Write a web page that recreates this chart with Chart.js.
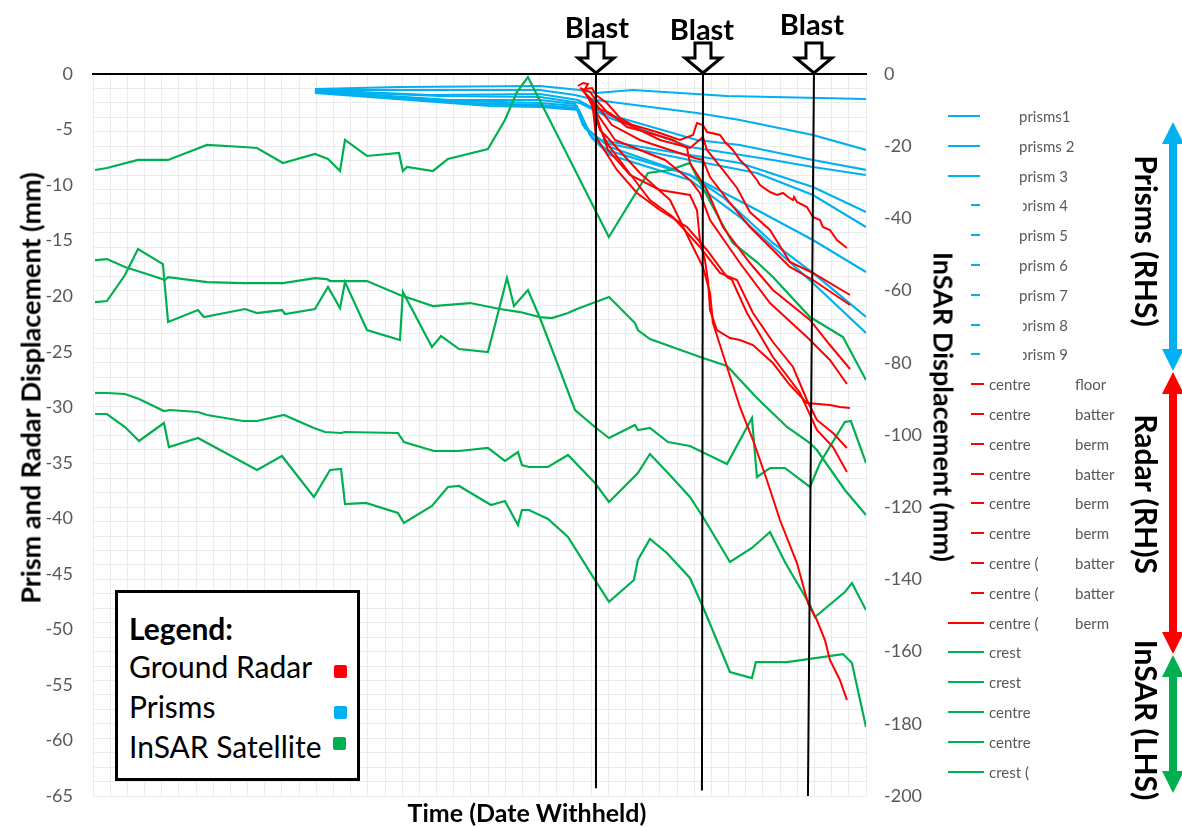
<!DOCTYPE html>
<html>
<head>
<meta charset="utf-8">
<title>Prism, radar and InSAR displacement</title>
<script src="https://cdn.jsdelivr.net/npm/chart.js@4.4.1/dist/chart.umd.min.js"></script>
<style>
  html, body { margin: 0; padding: 0; background: #fff; }
  #wrap { position: relative; width: 1182px; height: 827px; overflow: hidden; font-family: Lato, "Open Sans", sans-serif; }
  #chart { position: absolute; left: 0; top: 0; }
  .abs { position: absolute; white-space: nowrap; line-height: 1; }
  .blast { font-weight: bold; font-size: 29px; color: #000; transform: translate(-50%, -50%); }
  .ytitle { font-weight: bold; font-size: 27px; color: #000; transform: translate(-50%, -50%) rotate(-90deg); }
  .y2title { font-weight: bold; font-size: 27px; color: #000; transform: translate(-50%, -50%) rotate(90deg); }
  .xtitle { font-weight: bold; font-size: 25px; color: #000; transform: translate(-50%, -50%); }
  .side { font-weight: bold; font-size: 30px; color: #000; transform: translate(-50%, -50%) rotate(90deg); }
  #legendBox { position: absolute; left: 115px; top: 590px; width: 245px; height: 191px; box-sizing: border-box; border: 3px solid #000; background: #fff; }
  #legendBox .row { position: absolute; left: 11px; font-size: 30px; color: #000; transform: translateY(-50%); white-space: nowrap; line-height: 1; }
  #legendBox .sq { position: absolute; width: 13px; height: 13px; border-radius: 2px; }
  .lg { position: absolute; font-size: 15px; color: #595959; white-space: nowrap; line-height: 1; transform: translateY(-50%); }
  .lgline { position: absolute; height: 2px; }
</style>
</head>
<body>
<div id="wrap">
  <canvas id="chart" width="1182" height="827"></canvas>

  <div class="abs blast" style="left:597px; top:26px;">Blast</div>
  <div class="abs blast" style="left:702px; top:28px;">Blast</div>
  <div class="abs blast" style="left:812px; top:23px;">Blast</div>

  <div class="abs ytitle" style="left:30px; top:388px;">Prism and Radar Displacement (mm)</div>
  <div class="abs y2title" style="left:944px; top:407px;">InSAR Displacement (mm)</div>
  <div class="abs xtitle" style="left:527px; top:812px;">Time (Date Withheld)</div>

  <div class="abs side" style="left:1147px; top:241px;">Prisms (RHS)</div>
  <div class="abs side" style="left:1147px; top:494px;">Radar (RH)S</div>
  <div class="abs side" style="left:1147px; top:720px;">InSAR (LHS)</div>

  <div id="legendBox">
    <div class="row" style="top:35px; font-weight:bold;">Legend:</div>
    <div class="row" style="top:73px;">Ground Radar</div>
    <div class="row" style="top:113px;">Prisms</div>
    <div class="row" style="top:153px;">InSAR Satellite</div>
    <div class="sq" style="left:216px; top:72px; background:#FF0000;"></div>
    <div class="sq" style="left:216px; top:113px; background:#00B0F0;"></div>
    <div class="sq" style="left:215px; top:144px; background:#00B050;"></div>
  </div>

  <div id="sideLegend"></div>
</div>

<script>
// time axis: one unit per vertical grid line (dates withheld)
const xMin = 0;
const xMax = 45;

// prisms (right axis, mm)
const prism1 = [[12.92,-4.16],[17.87,-3.60],[26.02,-3.32],[28.35,-4.43],[29.28,-5.26],[31.43,-4.43],[36.91,-6.09],[45,-6.93]];
const prism2 = [[12.92,-4.43],[19.03,-4.43],[26.02,-4.43],[28.06,-5.82],[29.28,-7.20],[35.16,-10.80],[37.66,-12.74],[41.91,-16.90],[45,-21.05]];
const prism3 = [[12.92,-4.43],[19.62,-5.82],[26.02,-5.54],[28.23,-7.20],[29.51,-10.53],[35.16,-18.28],[37.66,-19.67],[41.91,-23.82],[45,-26.59]];
const prism4 = [[12.92,-4.71],[20.20,-6.09],[26.02,-6.37],[28.35,-8.03],[30.09,-12.19],[34.75,-20.22],[39.58,-23.82],[41.91,-25.76],[45,-27.98]];
const prism5 = [[12.92,-4.71],[20.78,-7.20],[26.02,-7.20],[28.06,-8.31],[28.52,-14.13],[29.51,-18.28],[34.75,-22.44],[37.66,-24.65],[41.91,-31.30],[45,-38.23]];
const prism6 = [[12.92,-4.99],[21.36,-7.48],[26.02,-8.03],[28.17,-8.86],[28.64,-14.96],[29.80,-19.11],[34.75,-23.82],[38.65,-27.42],[41.91,-33.52],[45,-42.38]];
const prism7 = [[12.92,-4.99],[21.95,-8.03],[26.02,-8.59],[28.17,-9.42],[28.76,-15.51],[30.09,-20.22],[34.75,-27.98],[38.65,-37.67],[41.91,-45.98],[45,-54.85]];
const prism8 = [[12.92,-4.99],[22.53,-8.31],[26.02,-8.86],[28.23,-9.70],[28.93,-16.90],[29.92,-21.05],[34.75,-27.98],[36.67,-34.07],[39.58,-46.81],[41.91,-55.12],[45,-67.31]];
const prism9 = [[12.92,-5.26],[23.11,-8.86],[26.02,-9.14],[28.29,-9.97],[29.05,-17.73],[30.09,-22.44],[34.75,-29.36],[37.66,-39.61],[41.91,-57.90],[45,-71.75]];

// ground radar (right axis, mm)
const radar1 = [[28.23,-3.32],[28.52,-2.49],[28.81,-2.77],[28.64,-4.16],[29.05,-3.88],[29.28,-5.82],[29.92,-8.03],[30.68,-12.19],[31.43,-14.13],[32.83,-16.07],[34.17,-18.28],[34.93,-16.90],[35.16,-13.57],[35.51,-14.13],[35.74,-16.07],[36.50,-16.90],[36.79,-18.84],[37.25,-21.05],[37.66,-23.82],[38.07,-25.76],[38.42,-27.98],[38.65,-29.36],[38.83,-30.75],[39.41,-32.69],[39.82,-33.52],[40.17,-32.96],[40.46,-34.07],[40.75,-34.90],[40.81,-34.07],[40.98,-35.46],[41.56,-36.84],[41.91,-39.61],[42.32,-40.44],[42.49,-42.38],[42.90,-43.21],[43.31,-45.98],[43.89,-48.20]];
const radar2 = [[28.35,-3.88],[28.93,-4.99],[29.28,-7.20],[30.09,-11.36],[31.26,-14.13],[33.00,-18.28],[34.75,-20.50],[35.51,-17.45],[35.74,-21.05],[36.67,-26.59],[37.49,-31.58],[38.24,-38.23],[39.41,-43.21],[40.57,-52.08],[41.91,-55.12],[44.07,-61.22]];
const radar3 = [[28.47,-4.43],[29.28,-8.31],[30.21,-14.13],[31.84,-18.28],[33.59,-21.05],[35.04,-23.27],[35.51,-23.82],[35.92,-28.53],[37.08,-35.73],[38.24,-42.38],[39.58,-48.75],[40.57,-53.46],[41.91,-57.06],[44.07,-63.99]];
const radar4 = [[28.58,-4.99],[29.28,-9.42],[30.09,-10.80],[31.09,-14.68],[32.42,-16.34],[33.76,-18.28],[34.58,-20.50],[34.75,-24.65],[35.74,-32.13],[36.67,-42.38],[38.24,-52.36],[39.58,-59.83],[41.74,-68.14],[42.90,-75.07],[44.07,-81.72]];
const radar5 = [[28.70,-5.54],[29.28,-10.53],[30.39,-18.28],[31.84,-21.05],[33.30,-23.82],[34.75,-29.36],[35.33,-32.96],[35.92,-40.44],[37.66,-52.36],[39.41,-63.44],[41.56,-72.85],[42.90,-79.22],[43.89,-85.87]];
const radar6 = [[28.81,-6.09],[29.28,-11.36],[29.98,-21.05],[31.26,-27.98],[33.00,-32.13],[34.75,-33.52],[35.16,-37.67],[35.33,-45.98],[35.62,-51.52],[35.80,-57.06],[35.92,-65.37],[36.32,-70.91],[37.08,-73.13],[37.66,-73.68],[38.42,-75.07],[39.58,-80.06],[40.57,-86.15],[41.56,-91.14],[42.90,-91.69],[43.48,-92.24],[44.07,-92.52]];
const radar7 = [[28.93,-6.65],[29.28,-12.74],[29.92,-19.11],[31.09,-26.59],[32.42,-34.90],[33.76,-39.61],[35.33,-47.92],[36.50,-55.12],[37.49,-57.06],[38.42,-66.21],[39.58,-74.24],[40.75,-81.16],[41.56,-90.30],[42.14,-95.84],[43.08,-99.45],[43.89,-103.60]];
const radar8 = [[29.05,-7.20],[29.28,-17.45],[30.50,-26.59],[31.67,-32.96],[33.00,-37.67],[34.58,-42.38],[35.74,-48.75],[36.91,-56.23],[37.20,-57.06],[38.07,-66.21],[39.58,-78.39],[41.16,-88.37],[42.14,-98.62],[43.08,-103.32],[43.89,-110.25]];
const radar9 = [[29.16,-7.76],[29.51,-15.51],[29.92,-17.45],[31.84,-27.42],[33.59,-34.90],[34.93,-47.92],[35.51,-53.46],[35.92,-60.66],[36.09,-68.97],[36.91,-81.16],[37.66,-92.24],[38.42,-101.39],[39.23,-112.47],[39.99,-123.55],[40.98,-135.46],[41.62,-146.54],[42.14,-151.25],[42.61,-156.79],[42.90,-162.33],[43.48,-167.87],[43.89,-173.41]];

// InSAR satellite (left axis, mm)
const insar1 = [[0.12,-8.64],[0.81,-8.46],[2.62,-7.74],[4.37,-7.74],[6.64,-6.39],[8.73,-6.57],[9.55,-6.66],[11.06,-8.01],[12.92,-7.20],[13.68,-7.65],[14.38,-8.73],[14.67,-5.94],[15.95,-7.38],[17.81,-7.11],[18.04,-8.73],[18.28,-8.37],[19.79,-8.73],[20.66,-7.65],[22.99,-6.75],[23.98,-4.14],[24.68,-1.62],[25.32,-0.27],[30.03,-14.67],[32.31,-8.91],[33.59,-8.64],[34.75,-8.01],[35.16,-9.27],[36.50,-13.14],[37.25,-15.21],[38.65,-16.93],[39.58,-18.28],[41.74,-21.88],[43.66,-23.68],[45,-27.55]];
const insar2 = [[0.12,-16.75],[0.81,-16.66],[1.86,-17.38],[3.32,-18.10],[4.19,-18.55],[4.37,-18.28],[6.64,-18.73],[8.73,-18.82],[11.06,-18.82],[12.92,-18.37],[13.62,-18.46],[13.80,-18.64],[14.55,-18.64],[15.95,-18.64],[17.87,-19.90],[19.79,-20.89],[21.95,-20.62],[23.69,-21.16],[24.86,-21.43],[26.02,-21.88],[26.72,-21.97],[27.65,-21.52],[28.17,-21.16],[30.04,-20.08],[31.55,-22.42],[31.72,-23.05],[32.42,-23.86],[35.51,-25.57],[36.91,-26.29],[38.65,-29.17],[40.40,-31.78],[41.74,-33.22],[42.14,-33.85],[43.77,-37.45],[45,-39.70]];
const insar3 = [[0.12,-20.53],[0.81,-20.44],[1.86,-18.10],[2.62,-15.76],[4.07,-17.11],[4.37,-22.33],[6.11,-21.25],[6.46,-21.88],[8.85,-21.16],[9.55,-21.52],[11.00,-21.25],[11.18,-21.61],[12.92,-21.16],[13.68,-19.18],[14.38,-21.07],[14.67,-18.73],[15.95,-23.05],[17.87,-23.95],[18.04,-19.63],[19.73,-24.58],[20.26,-23.59],[21.31,-24.76],[22.99,-25.03],[23.40,-22.60],[24.10,-18.37],[24.51,-20.89],[25.32,-19.45],[26.02,-21.97],[27.18,-26.65],[28.06,-30.25],[29.22,-31.78],[30.04,-32.77],[31.55,-31.60],[31.72,-32.05],[32.42,-31.87],[33.47,-33.13],[34.75,-33.49],[36.91,-35.11],[38.36,-30.97],[38.65,-36.28],[39.41,-35.47],[40.28,-35.47],[41.74,-37.18],[42.32,-35.02],[43.77,-31.33],[44.12,-31.24],[45,-35.02]];
const insar4 = [[0.12,-28.72],[0.81,-28.72],[1.86,-28.81],[2.68,-29.26],[4.13,-30.34],[4.48,-30.25],[6.11,-30.43],[6.64,-30.70],[8.73,-31.24],[9.55,-31.24],[11.12,-30.70],[12.86,-31.87],[13.51,-32.23],[14.44,-32.32],[14.67,-32.23],[17.75,-32.32],[18.10,-33.13],[19.85,-33.94],[21.31,-33.94],[22.99,-33.67],[23.98,-34.84],[24.74,-34.03],[24.97,-35.20],[25.38,-35.38],[26.49,-35.38],[27.65,-34.30],[29.22,-36.82],[30.04,-38.53],[31.72,-35.92],[32.42,-34.21],[33.47,-35.92],[34.75,-38.08],[35.51,-39.88],[37.08,-43.93],[38.36,-42.67],[39.41,-41.23],[40.28,-43.93],[41.74,-47.80],[42.03,-48.89],[43.77,-46.64],[44.18,-45.82],[45,-48.26]];
const insar5 = [[0.12,-30.61],[0.81,-30.61],[1.86,-31.78],[2.68,-33.04],[4.13,-31.42],[4.42,-33.58],[6.11,-32.77],[9.55,-35.65],[11.00,-34.39],[12.86,-38.08],[13.80,-35.65],[14.44,-35.56],[14.67,-38.71],[15.89,-38.62],[17.75,-39.52],[18.10,-40.42],[19.73,-38.89],[20.66,-37.18],[21.31,-37.09],[23.17,-38.80],[23.98,-38.44],[24.74,-40.60],[24.97,-39.25],[25.38,-39.25],[26.49,-40.06],[27.65,-41.68],[29.22,-45.55],[30.04,-47.53],[31.49,-45.55],[31.72,-43.75],[32.42,-41.86],[33.41,-43.12],[34.75,-45.37],[35.51,-47.99],[37.08,-53.84],[38.36,-54.38],[38.59,-52.94],[40.40,-52.94],[43.66,-52.22],[44.18,-53.03],[45,-58.79]];

// blast times (slightly slanted lines in the original)
const blastTop = [29.28, 35.51, 41.97];
const blastBottom = [29.28, 35.45, 41.62];
const blastEnd = [-64.3, -64.5, -65];

// series names as in the side legend
const prismNames = ["prisms1", "prisms 2", "prism 3", "prism 4", "prism 5", "prism 6", "prism 7", "prism 8", "prism 9"];
const radarNames = [["centre", "floor"], ["centre", "batter"], ["centre", "berm"], ["centre", "batter"], ["centre", "berm"], ["centre", "berm"], ["centre (", "batter"], ["centre (", "batter"], ["centre (", "berm"]];
const insarNames = ["crest", "crest", "centre", "centre", "crest ("];

const BLUE = "#00B0F0";
const RED = "#FF0000";
const GREEN = "#00B050";

function toPoints(arr) {
  return arr.map(function (p) { return { x: p[0], y: p[1] }; });
}

const datasets = [];

// blast lines first so they sit on top
blastTop.forEach(function (bx, i) {
  datasets.push({
    label: "Blast " + (i + 1),
    data: [{ x: bx, y: 0 }, { x: blastBottom[i], y: blastEnd[i] }],
    borderColor: "#000",
    borderWidth: 2,
    pointRadius: 0,
    yAxisID: "y"
  });
});

[radar1, radar2, radar3, radar4, radar5, radar6, radar7, radar8, radar9].forEach(function (s, i) {
  datasets.push({
    label: radarNames[i].join(" "),
    data: toPoints(s),
    borderColor: RED,
    borderWidth: 2,
    pointRadius: 0,
    tension: 0,
    yAxisID: "y2"
  });
});

[insar1, insar2, insar3, insar4, insar5].forEach(function (s, i) {
  datasets.push({
    label: insarNames[i],
    data: toPoints(s),
    borderColor: GREEN,
    borderWidth: 2.2,
    pointRadius: 0,
    tension: 0,
    yAxisID: "y"
  });
});

[prism1, prism2, prism3, prism4, prism5, prism6, prism7, prism8, prism9].forEach(function (s, i) {
  datasets.push({
    label: prismNames[i],
    data: toPoints(s),
    borderColor: BLUE,
    borderWidth: 2.2,
    pointRadius: 0,
    tension: 0,
    yAxisID: "y2"
  });
});

// hollow "Blast" arrows above the plot and the coloured double arrows on the right
function doubleArrow(ctx, cx, y1, y2, color) {
  const head = 22, hw = 11, sw = 4;
  ctx.beginPath();
  ctx.moveTo(cx, y1);
  ctx.lineTo(cx + hw, y1 + head);
  ctx.lineTo(cx + sw, y1 + head);
  ctx.lineTo(cx + sw, y2 - head);
  ctx.lineTo(cx + hw, y2 - head);
  ctx.lineTo(cx, y2);
  ctx.lineTo(cx - hw, y2 - head);
  ctx.lineTo(cx - sw, y2 - head);
  ctx.lineTo(cx - sw, y1 + head);
  ctx.lineTo(cx - hw, y1 + head);
  ctx.closePath();
  ctx.fillStyle = color;
  ctx.fill();
}

const decorPlugin = {
  id: "decor",
  afterDraw: function (chart) {
    const ctx = chart.ctx;
    const xs = chart.scales.x;
    const top = chart.chartArea.top;
    ctx.save();
    blastTop.forEach(function (v) {
      const cx = xs.getPixelForValue(v);
      ctx.beginPath();
      ctx.moveTo(cx - 8, top - 31);
      ctx.lineTo(cx + 8, top - 31);
      ctx.lineTo(cx + 8, top - 16);
      ctx.lineTo(cx + 18, top - 16);
      ctx.lineTo(cx, top - 1);
      ctx.lineTo(cx - 18, top - 16);
      ctx.lineTo(cx - 8, top - 16);
      ctx.closePath();
      ctx.fillStyle = "#fff";
      ctx.fill();
      ctx.lineWidth = 3;
      ctx.lineJoin = "miter";
      ctx.strokeStyle = "#000";
      ctx.stroke();
    });
    doubleArrow(ctx, 1173, 122, 371, BLUE);
    doubleArrow(ctx, 1173, 372, 654, RED);
    doubleArrow(ctx, 1173, 655, 793, GREEN);
    ctx.restore();
  }
};

Chart.defaults.font.family = "Lato, 'Open Sans', sans-serif";

new Chart(document.getElementById("chart"), {
  type: "line",
  data: { datasets: datasets },
  options: {
    responsive: false,
    animation: false,
    events: [],
    layout: { padding: { top: 74, bottom: 31, left: 0, right: 256 } },
    plugins: { legend: { display: false }, tooltip: { enabled: false } },
    scales: {
      x: {
        type: "linear",
        position: "top",
        min: xMin,
        max: xMax,
        ticks: { display: false, stepSize: 1 },
        grid: { color: "#ebebeb", lineWidth: 1, drawTicks: false },
        border: { display: true, color: "#000", width: 2 },
        afterFit: function (s) { s.height = 0; }
      },
      y: {
        position: "left",
        min: -65,
        max: 0,
        ticks: {
          stepSize: 5,
          color: "#595959",
          font: { size: 18 },
          padding: 20,
          callback: function (v) { return String(v); }
        },
        grid: { display: false, drawTicks: false },
        border: { display: false },
        afterFit: function (s) { s.width = 93; }
      },
      y2: {
        position: "right",
        min: -200,
        max: 0,
        ticks: {
          stepSize: 4,
          autoSkip: false,
          color: "#595959",
          font: { size: 18 },
          padding: 18,
          callback: function (v) { return v % 20 === 0 ? String(v) : ""; }
        },
        grid: { color: "#ebebeb", lineWidth: 1, drawTicks: false },
        border: { display: false },
        afterFit: function (s) { s.width = 60; }
      }
    }
  },
  plugins: [decorPlugin]
});

// side legend with the individual series
(function () {
  const box = document.getElementById("sideLegend");
  const rows = [];
  prismNames.forEach(function (n, i) {
    rows.push({ color: BLUE, left: n, x: 1019, long: i < 3, lineEnd: 980, clip: (i === 3 || i === 7 || i === 8) });
  });
  radarNames.forEach(function (n, i) {
    rows.push({ color: RED, left: n[0], right: n[1], x: 989, long: i === 8, lineEnd: 984 });
  });
  insarNames.forEach(function (n) {
    rows.push({ color: GREEN, left: n, x: 989, long: true, lineEnd: 984 });
  });
  rows.forEach(function (r, i) {
    const cy = 116 + i * 29.8;
    const ln = document.createElement("div");
    ln.className = "lgline";
    const x0 = r.long ? 948 : 971;
    ln.style.left = x0 + "px";
    ln.style.width = (r.lineEnd - x0) + "px";
    ln.style.top = (cy - 1) + "px";
    ln.style.background = r.color;
    box.appendChild(ln);
    const t = document.createElement("div");
    t.className = "lg";
    t.style.left = r.x + "px";
    t.style.top = cy + "px";
    t.textContent = r.left;
    if (r.clip) t.style.clipPath = "inset(0 0 0 4px)";
    box.appendChild(t);
    if (r.right) {
      const t2 = document.createElement("div");
      t2.className = "lg";
      t2.style.left = "1075px";
      t2.style.top = cy + "px";
      t2.textContent = r.right;
      box.appendChild(t2);
    }
  });
})();
</script>
</body>
</html>
